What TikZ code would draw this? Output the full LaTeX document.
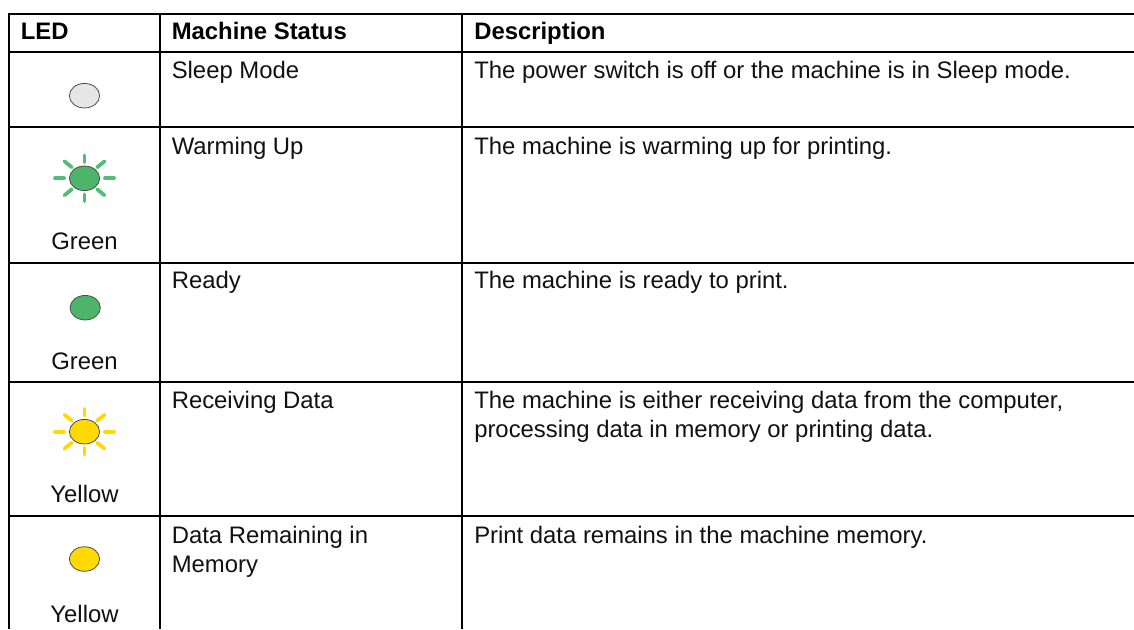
\documentclass[tikz,border=0pt]{standalone}
\usepackage{fontspec}
\setmainfont{Liberation Sans}
\usetikzlibrary{shapes.geometric}
\definecolor{ledgreen}{HTML}{4DB56A}
\definecolor{raygreen}{HTML}{50BE74}
\definecolor{ledyellow}{HTML}{FFD900}
\definecolor{ledoff}{HTML}{E6E6E6}
\definecolor{inktext}{HTML}{111111}
\tikzset{
  rule/.style={line width=1.5pt,black},
  celltext/.style={anchor=base west,inner sep=0pt,font=\fontsize{17.9}{22}\selectfont,text=inktext},
  headtext/.style={anchor=base west,inner sep=0pt,font=\fontsize{17.9}{22}\selectfont\bfseries,text=black},
  colourtext/.style={anchor=base,inner sep=0pt,font=\fontsize{17.9}{22}\selectfont,text=inktext},
  lamp/.style={ellipse,draw=black!70,line width=0.6pt,minimum width=22.7pt,minimum height=18.4pt,inner sep=0pt},
  ray/.style={line width=2.8pt,line cap=round}
}
\newcommand{\lamprays}[2]{%
  \foreach \ax/\ay/\bx/\by in {-29.5/0/-20.5/0, 20.5/0/29.5/0, 0/-23/0/-16, 0/16/0/23,
      -20/-17/-12.7/-11, 20/-17/12.7/-11, -20/17/-12.7/11, 20/17/12.7/11}{
    \draw[ray,#2] ([shift={(\ax,\ay)}]#1.center) -- ([shift={(\bx,\by)}]#1.center);
  }}
\begin{document}
\begin{tikzpicture}[x=0.75pt,y=-0.75pt]
\useasboundingbox (0,0) rectangle (1134,629);
\fill[white] (0,0) rectangle (1134,629);
% rules
\foreach \y in {14,52.4,127.4,263,381.7,516.3}{
  \draw[rule] (8,\y) -- (1134,\y);
}
\foreach \x in {8.7,160,462}{
  \draw[rule] (\x,14) -- (\x,629);
}
% header
\node[headtext] (hled) at (20.5,39.5) {LED};
\node[headtext] (hstat) at (171.5,39.5) {Machine Status};
\node[headtext] (hdesc) at (474,39.5) {Description};
% status
\node[celltext] (s1) at (171.5,78.5) {Sleep Mode};
\node[celltext] (s2) at (171.5,154) {Warming Up};
\node[celltext] (s3) at (171.5,288.5) {Ready};
\node[celltext] (s4) at (171.5,408) {Receiving Data};
\node[celltext] (s5a) at (171.5,543) {Data Remaining in};
\node[celltext] (s5b) at (171.5,572.7) {Memory};
% descriptions
\node[celltext] (d1) at (474,78.5) {The power switch is off or the machine is in Sleep mode.};
\node[celltext] (d2) at (474,154) {The machine is warming up for printing.};
\node[celltext] (d3) at (474,288.5) {The machine is ready to print.};
\node[celltext] (d4a) at (474,408) {The machine is either receiving data from the computer,};
\node[celltext] (d4b) at (474,437.7) {processing data in memory or printing data.};
\node[celltext] (d5) at (474,543) {Print data remains in the machine memory.};
% lamps
\node[lamp,fill=ledoff] (l1) at (84.5,95.7) {};
\node[lamp,fill=ledgreen] (l2) at (84.5,178.3) {};
\node[lamp,fill=ledgreen] (l3) at (85.2,307.7) {};
\node[lamp,fill=ledyellow] (l4) at (84.5,431.7) {};
\node[lamp,fill=ledyellow] (l5) at (84.5,559) {};
\lamprays{l2}{raygreen}
\lamprays{l4}{ledyellow}
% colour names
\node[colourtext] (c2) at (84.5,249) {Green};
\node[colourtext] (c3) at (84.5,369) {Green};
\node[colourtext] (c4) at (84.5,502.7) {Yellow};
\node[colourtext] (c5) at (84.5,622.7) {Yellow};
\end{tikzpicture}
\end{document}
